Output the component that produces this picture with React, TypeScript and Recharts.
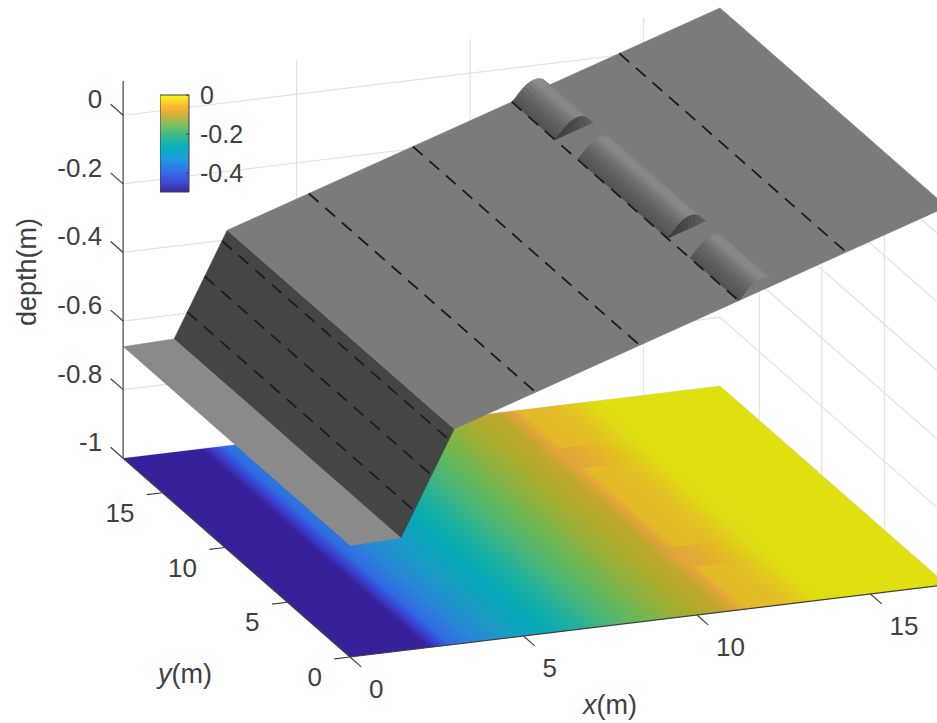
import React from 'react';
import { ScatterChart, Scatter, XAxis, YAxis, BarChart, Bar } from 'recharts';

// bed geometry, metres
const xMax = 17.2;
const yMax = 18.15;
const zTop = 0.1;
const profileX = [0, 1.47, 3, 17.2];
const profileZ = [-0.675, -0.67, -0.372, 0.102];
const gaugesX = [1.85, 2.35, 2.85, 5.35, 8.35, 11.2, 14.3];

// bumps on the slope
const bumpYRanges = [[14.7, 18.15], [5.7, 12.9], [0, 3.9]];
const bumpX = [11.2, 11.3, 11.4, 11.5, 11.6, 11.7, 11.8, 11.9, 12.0, 12.1, 12.2, 12.3];
const bumpH = [0, 0.007, 0.016, 0.024, 0.03, 0.034, 0.036, 0.035, 0.032, 0.025, 0.012, 0];
const bumpShades = ['#525252', '#575757', '#5e5e5e', '#666666', '#707070', '#7b7b7b', '#868686', '#888888', '#888888', '#868686', '#808080', '#7b7b7b'];
const capShades = ['#3c3c3c', '#3e3e3e', '#404040', '#434343', '#464646', '#4a4a4a', '#4e4e4e', '#525252', '#565656', '#5a5a5a', '#5e5e5e'];

// floor colours along x
const floorStopX = [0, 2.25, 2.55, 2.9, 3.6, 4.5, 5.6, 6.5, 7.4, 8.3, 9.2, 10, 10.7, 11.15, 11.8, 12.6, 13.5, 14, 17.2];
const floorStopC = ['#38209a', '#38209a', '#3a3fd0', '#2f6ae2', '#2a86d8', '#1b9bc6', '#05a9b8', '#1cb0a0', '#45b57a', '#69b85a', '#8fb23e', '#aeab2b', '#c0a82c', '#e0a33c', '#e4ab32', '#e3c020', '#dfdc12', '#e0e010', '#e0e010'];
const patchStopX = [0, 10.7, 11.2, 11.45, 12.3, 12.8, 13.5, 17.2];
const patchStopC = ['#b8a828', '#b8a828', '#e3a43a', '#e3ba28', '#e3bc28', '#e3c622', '#dfdc12', '#dfdc12'];

// ticks
const xTicks = [0, 5, 10, 15];
const yTicks = [0, 5, 10, 15];
const zTicks = [0, -0.2, -0.4, -0.6, -0.8, -1];

// colorbar
const barDepth = [{ name: 'depth', value: -0.497 }];
const barStops = [0, 0.04, 0.12, 0.2, 0.3, 0.42, 0.54, 0.66, 0.78, 0.9, 1];
const barColors = ['#f9f616', '#f9e326', '#fbb72f', '#d7ae38', '#82c05c', '#38b98a', '#08b1bd', '#1f9be0', '#2f72ea', '#3f4bd4', '#352a9a'];
const barTicks = [0, -0.2, -0.4];

// orthographic view, pixels per unit
const origin = [350, 657];
const xVec = [34.7, -4.2];
const yVec = [-12.5, -10.95];
const zPx = 343;

const project = (x: number, y: number, z: number) => ({
  u: origin[0] + x * xVec[0] + y * yVec[0],
  v: origin[1] + x * xVec[1] + y * yVec[1] - (z + 1) * zPx,
});

const surfaceZ = (x: number) => {
  for (let i = 1; i < profileX.length; i++) {
    if (x <= profileX[i]) {
      const t = (x - profileX[i - 1]) / (profileX[i] - profileX[i - 1]);
      return profileZ[i - 1] + t * (profileZ[i] - profileZ[i - 1]);
    }
  }
  return profileZ[profileZ.length - 1];
};

const textColor = '#404040';
const axisFont = 'Liberation Sans, Arial, sans-serif';

const noDot = () => <g />;

// one filled polygon as a closed scatter line
const poly = (key: string, pts: number[][], fill: string, edge?: string) => (
  <Scatter
    key={key}
    data={pts.map(([x, y, z]) => project(x, y, z))}
    dataKey="v"
    shape={noDot}
    line={{ fill, stroke: edge ?? fill, strokeWidth: edge === 'none' ? 0 : 0.6 }}
    lineType="joint"
    isAnimationActive={false}
  />
);

const path = (key: string, pts: number[][], stroke: string, width = 1, dash?: string) => (
  <Scatter
    key={key}
    data={pts.map(([x, y, z]) => project(x, y, z))}
    dataKey="v"
    shape={noDot}
    line={{ fill: 'none', stroke, strokeWidth: width, strokeDasharray: dash }}
    lineType="joint"
    isAnimationActive={false}
  />
);

const labelShape = (anchor: string, dx: number, dy: number) => (p: any) => (
  <text
    x={p.cx + dx}
    y={p.cy + dy}
    textAnchor={anchor}
    dominantBaseline="central"
    fontFamily={axisFont}
    fontSize={26}
    fill={textColor}
  >
    {p.payload.label}
  </text>
);

const titleShape = (p: any) => (
  <text
    x={p.cx}
    y={p.cy}
    textAnchor="middle"
    dominantBaseline="central"
    fontFamily={axisFont}
    fontSize={27}
    fill={textColor}
    transform={p.payload.rotate ? `rotate(-90 ${p.cx} ${p.cy})` : undefined}
  >
    {p.payload.italic ? <tspan fontStyle="italic">{p.payload.italic}</tspan> : null}
    {p.payload.label}
  </text>
);

const titles = [
  { u: 610, v: 705, italic: 'x', label: '(m)' },
  { u: 185, v: 674, italic: 'y', label: '(m)' },
  { u: 27, v: 272, rotate: true, label: 'depth(m)' },
];

const gradNorm = Math.hypot(yVec[0], yVec[1]);
const nrm = [-yVec[1] / gradNorm, yVec[0] / gradNorm];
const gradLen = (xVec[0] * nrm[0] + xVec[1] * nrm[1]) * xMax;

const floorGradient = (id: string, stopX: number[], stopC: string[]) => (
  <linearGradient
    id={id}
    gradientUnits="userSpaceOnUse"
    x1={origin[0]}
    y1={origin[1]}
    x2={origin[0] + nrm[0] * gradLen}
    y2={origin[1] + nrm[1] * gradLen}
  >
    {stopX.map((x, i) => (
      <stop key={i} offset={x / xMax} stopColor={stopC[i]} />
    ))}
  </linearGradient>
);

// shading across the near side of a bump, foot to ridge
const ridgeIdx = bumpH.indexOf(Math.max(...bumpH));
const bumpT = (k: number) => {
  const p = project(bumpX[k], 0, surfaceZ(bumpX[k]) + bumpH[k]);
  return (p.u - origin[0]) * nrm[0] + (p.v - origin[1]) * nrm[1];
};
const bumpGradient = () => {
  const t0 = bumpT(0);
  const t1 = bumpT(ridgeIdx);
  return (
    <linearGradient
      id="bumpGrad"
      gradientUnits="userSpaceOnUse"
      x1={origin[0] + nrm[0] * t0}
      y1={origin[1] + nrm[1] * t0}
      x2={origin[0] + nrm[0] * t1}
      y2={origin[1] + nrm[1] * t1}
    >
      {bumpX.slice(0, ridgeIdx + 1).map((_, k) => (
        <stop key={k} offset={(bumpT(k) - t0) / (t1 - t0)} stopColor={bumpShades[k]} />
      ))}
    </linearGradient>
  );
};

const ColorBar = () => (
  <div style={{ position: 'absolute', left: 160, top: 80 }}>
    <BarChart
      width={110}
      height={122}
      data={barDepth}
      margin={{ top: 15, right: 0, bottom: 10, left: 0 }}
      barCategoryGap={0}
    >
      <defs>
        <linearGradient id="barGrad" x1="0" y1="0" x2="0" y2="1">
          {barStops.map((s, i) => (
            <stop key={i} offset={s} stopColor={barColors[i]} />
          ))}
        </linearGradient>
      </defs>
      <XAxis dataKey="name" hide />
      <YAxis
        orientation="right"
        type="number"
        domain={[-0.497, 0]}
        ticks={barTicks}
        tickFormatter={(v) => String(v)}
        axisLine={false}
        tickLine={{ stroke: textColor }}
        tickSize={-3}
        tickMargin={14}
        interval={0}
        width={81}
        tick={{ fontSize: 25, fontFamily: axisFont, fill: textColor, textAnchor: 'start' }}
      />
      <Bar dataKey="value" fill="url(#barGrad)" stroke={textColor} strokeWidth={1} isAnimationActive={false} />
    </BarChart>
  </div>
);

export default function App() {
  const grid = '#e2e2e2';
  const axis = '#404040';
  const gridLevels = zTicks.map((z) => [[0, yMax, z], [xMax, yMax, z], [xMax, 0, z]]);

  return (
    <div style={{ position: 'absolute', left: 0, top: 0, width: 937, height: 723, background: '#fff', overflow: 'hidden' }}>
      <ScatterChart width={937} height={723} margin={{ top: 0, right: 0, bottom: 0, left: 0 }}>
        <defs>
          {floorGradient('floorGrad', floorStopX, floorStopC)}
          {floorGradient('patchGrad', patchStopX, patchStopC)}
          {bumpGradient()}
        </defs>
        <XAxis type="number" dataKey="u" domain={[0, 937]} allowDataOverflow hide />
        <YAxis type="number" dataKey="v" domain={[0, 723]} allowDataOverflow reversed hide />

        {/* back walls */}
        {gridLevels.map((pts, i) => path(`lvl${i}`, pts, grid, 1.2))}
        {xTicks.slice(1).map((x) => path(`vx${x}`, [[x, yMax, -1], [x, yMax, zTop]], grid, 1.2))}
        {yTicks.map((y) => path(`vy${y}`, [[xMax, y, -1], [xMax, y, zTop]], grid, 1.2))}

        {/* coloured floor */}
        {poly('floor', [[0, 0, -1], [xMax, 0, -1], [xMax, yMax, -1], [0, yMax, -1]], 'url(#floorGrad)', 'none')}
        {bumpYRanges.map(([y0, y1], i) =>
          poly(`patch${i}`, [[10.7, y0, -1], [13.5, y0, -1], [13.5, y1, -1], [10.7, y1, -1]], 'url(#patchGrad)', 'none')
        )}

        {/* plate, ramp, slope */}
        {poly('plate', [[0, 0, profileZ[0]], [profileX[1], 0, profileZ[1]], [profileX[1], yMax, profileZ[1]], [0, yMax, profileZ[0]]], '#8a8a8a')}
        {poly('ramp', [[profileX[1], 0, profileZ[1]], [profileX[2], 0, profileZ[2]], [profileX[2], yMax, profileZ[2]], [profileX[1], yMax, profileZ[1]]], '#454545')}
        {poly('slope', [[profileX[2], 0, profileZ[2]], [profileX[3], 0, profileZ[3]], [profileX[3], yMax, profileZ[3]], [profileX[2], yMax, profileZ[2]]], '#7b7b7b')}

        {/* bumps, far strip first */}
        {bumpYRanges.map(([y0, y1], b) => [
          ...bumpX.slice(0, -1).map((_, k) => bumpX.length - 2 - k).map((k) =>
            poly(`b${b}s${k}`, [
              [bumpX[k], y0, surfaceZ(bumpX[k]) + bumpH[k]],
              [bumpX[k + 1], y0, surfaceZ(bumpX[k + 1]) + bumpH[k + 1]],
              [bumpX[k + 1], y1, surfaceZ(bumpX[k + 1]) + bumpH[k + 1]],
              [bumpX[k], y1, surfaceZ(bumpX[k]) + bumpH[k]],
            ], k < ridgeIdx ? 'url(#bumpGrad)' : bumpShades[k + 1])
          ),
          ...(y0 > 0
            ? capShades.map((c, k) =>
                poly(`b${b}c${k}`, [
                  [bumpX[k], y0, surfaceZ(bumpX[k])],
                  [bumpX[k + 1], y0, surfaceZ(bumpX[k + 1])],
                  [bumpX[k + 1], y0, surfaceZ(bumpX[k + 1]) + bumpH[k + 1]],
                  [bumpX[k], y0, surfaceZ(bumpX[k]) + bumpH[k]],
                ], c)
              )
            : []),
        ])}

        {/* gauge lines */}
        {gaugesX.map((x) =>
          path(`g${x}`, [[x, yMax, surfaceZ(x)], [x, 0, surfaceZ(x)]], '#1c1c1c', 1.8, '13 9')
        )}

        {/* axes */}
        {path('axX', [[0, 0, -1], [xMax, 0, -1]], axis, 1.2)}
        {path('axY', [[0, 0, -1], [0, yMax, -1]], axis, 1.2)}
        {path('axZ', [[0, yMax, -1], [0, yMax, zTop]], axis, 1.2)}
        {xTicks.map((x) => path(`tx${x}`, [[x, 0, -1], [x, -0.9, -1]], axis, 1.2))}
        {yTicks.map((y) => path(`ty${y}`, [[0, y, -1], [-0.45, y, -1]], axis, 1.2))}
        {zTicks.map((z) => path(`tz${z}`, [[0, yMax, z], [0, yMax + 1, z]], axis, 1.2))}

        {/* labels */}
        <Scatter
          data={xTicks.map((x) => ({ ...project(x, 0, -1), label: String(x) }))}
          dataKey="v"
          shape={labelShape('start', 19, 32)}
          isAnimationActive={false}
        />
        <Scatter
          data={yTicks.map((y) => ({ ...project(0, y, -1), label: String(y) }))}
          dataKey="v"
          shape={labelShape('end', -28, 20)}
          isAnimationActive={false}
        />
        <Scatter
          data={zTicks.map((z) => ({ ...project(0, yMax, z), label: String(z) }))}
          dataKey="v"
          shape={labelShape('end', -21, -16)}
          isAnimationActive={false}
        />
        <Scatter data={titles} dataKey="v" shape={titleShape} isAnimationActive={false} />
      </ScatterChart>
      <ColorBar />
    </div>
  );
}
